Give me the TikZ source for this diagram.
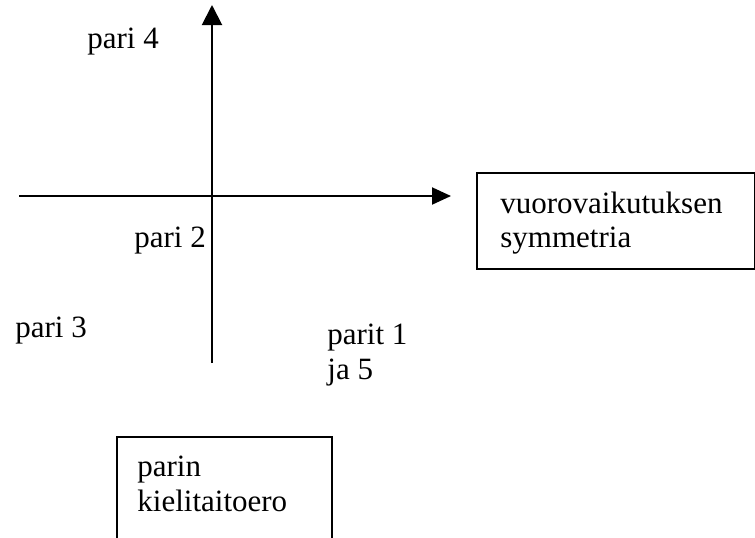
\documentclass[tikz,border=0pt]{standalone}
\usepackage{fontspec}
\setmainfont{Liberation Serif}
\usetikzlibrary{arrows.meta}
\tikzset{
  lbl/.style={anchor=base west, inner sep=0pt, font=\fontsize{15.5pt}{17.5pt}\selectfont},
  axis/.style={line width=1pt},
  boxframe/.style={draw, line width=1pt, anchor=north west, inner sep=0pt},
}
\begin{document}
\begin{tikzpicture}[x=0.5pt,y=-0.5pt]
\useasboundingbox (0,0) rectangle (755,537);
\clip (0,0) rectangle (755,537);
% axes
\coordinate (vbot) at (212,363);
\coordinate (vtop) at (212,5);
\coordinate (hleft) at (19,196);
\coordinate (hright) at (451,196);
\draw[axis, -{Triangle[length=10pt,width=10pt]}] (vbot) -- (vtop);
\draw[axis, -{Triangle[length=9.5pt,width=8.5pt]}] (hleft) -- (hright);
% boxes
\node[boxframe, minimum width=139pt, minimum height=48pt] (symbox) at (476,172) {};
\node[boxframe, minimum width=107.5pt, minimum height=70pt] (langbox) at (116,436) {};
% labels
\node[lbl] (p4) at (87,48) {pari 4};
\node[lbl] (p2) at (134,247) {pari 2};
\node[lbl] (p3) at (15,337) {pari 3};
\node[lbl] (p15a) at (327,344) {parit 1};
\node[lbl] (p15b) at (327,379) {ja 5};
\node[lbl] (syma) at (500,213) {vuorovaikutuksen};
\node[lbl] (symb) at (500,247) {symmetria};
\node[lbl] (langa) at (137,476) {parin};
\node[lbl] (langb) at (137,511) {kielitaitoero};
\end{tikzpicture}
\end{document}
